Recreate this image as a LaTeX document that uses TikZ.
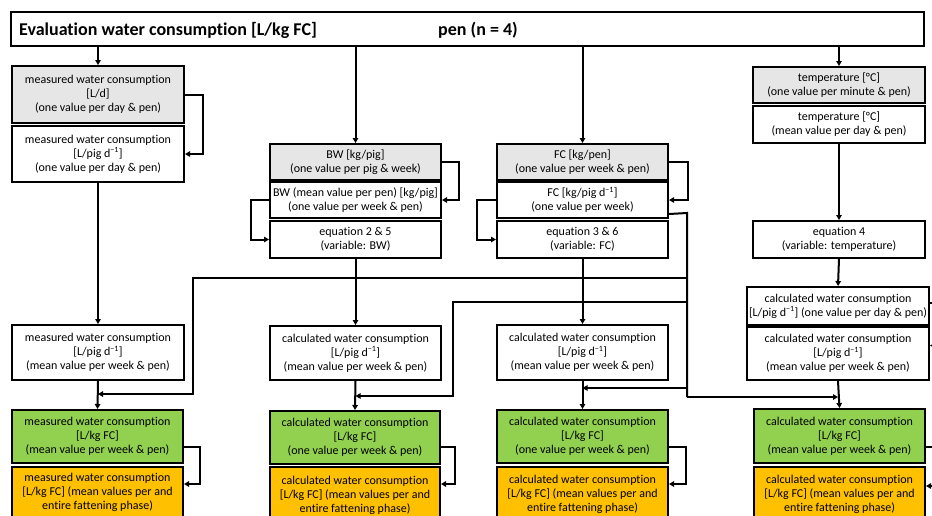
\documentclass[tikz,border=0pt]{standalone}
\usepackage{fontspec}
\setmainfont{Carlito}[Ligatures=NoCommon]
\usetikzlibrary{arrows.meta}
\definecolor{boxgray}{HTML}{E7E6E6}
\definecolor{boxgreen}{HTML}{92D050}
\definecolor{boxorange}{HTML}{FFC000}
\newcommand{\mybox}[7]{\node[box,#6,minimum width={#4pt-#2pt},minimum height={#5pt-#3pt}] (#1) at ({(#2+#4)/2},{(#3+#5)/2}) {#7};}
\newcommand{\perpd}{{[L/pig d\textsuperscript{−1}]}}
\newcommand{\perkg}{{[L/kg FC]}}
\begin{document}
\begin{tikzpicture}[x=1pt,y=-1pt,
  box/.style={draw,line width=2pt,inner sep=0pt,align=center,font=\fontsize{12}{14}\selectfont},
  gbox/.style={fill=boxgray},
  wbox/.style={fill=white},
  grbox/.style={fill=boxgreen},
  obox/.style={fill=boxorange},
  ln/.style={line width=2pt},
  arr/.style={line width=2pt,-{Triangle[length=5pt,width=5.5pt]}},
  ttl/.style={font=\fontsize{18}{21}\selectfont\bfseries,inner sep=0pt}]
\useasboundingbox (0,0) rectangle (932,515);
\clip (0,0) rectangle (932,515);
\fill[white] (0,0) rectangle (932,515);

% title
\node[draw,line width=2pt,minimum width=913pt,minimum height=34pt,inner sep=0pt] (title) at (467.5,29) {};
\node[ttl,anchor=west] (ttxt) at (19,30) {Evaluation water consumption [L/kg FC]};
\node[ttl,anchor=west] (tpen) at (438,30) {pen (n = 4)};

% column 1
\mybox{A1}{12}{66}{184}{123}{gbox}{measured water consumption\\ {[L/d]}\\ (one value per day \& pen)}
\mybox{A2}{12}{126}{184}{182}{wbox}{measured water consumption\\ \perpd\\ (one value per day \& pen)}
\mybox{A3}{12}{325}{184}{380}{wbox}{measured water consumption\\ \perpd\\ (mean value per week \& pen)}
\mybox{A4}{12}{410}{183}{463}{grbox}{measured water consumption\\ \perkg\\ (mean value per week \& pen)}
\mybox{A5}{12}{467}{183}{518}{obox}{measured water consumption\\ \perkg{} (mean values per and\\ entire fattening phase)}

% column 2
\mybox{B1}{270}{144}{441}{180}{gbox}{BW [kg/pig]\\ (one value per pig \& week)}
\mybox{B2}{270}{182}{441}{218}{wbox}{BW (mean value per pen) [kg/pig]\\ (one value per week \& pen)}
\mybox{B3}{270}{221}{441}{258}{wbox}{equation 2 \& 5\\ (variable: BW)}
\mybox{B4}{270}{326}{441}{380}{wbox}{calculated water consumption\\ \perpd\\ (mean value per week \& pen)}
\mybox{B5}{270}{411}{440}{464}{grbox}{calculated water consumption\\ \perkg\\ (one value per week \& pen)}
\mybox{B6}{270}{467}{440}{524}{obox}{calculated water consumption\\ \perkg{} (mean values per and\\ entire fattening phase)}

% column 3
\mybox{C1}{497}{144}{668}{180}{gbox}{FC [kg/pen]\\ (one value per week \& pen)}
\mybox{C2}{497}{182}{668}{218}{wbox}{FC [kg/pig d\textsuperscript{−1}]\\ (one value per week)}
\mybox{C3}{497}{221}{668}{258}{wbox}{equation 3 \& 6\\ (variable: FC)}
\mybox{C4}{497}{325}{668}{380}{wbox}{calculated water consumption\\ \perpd\\ (mean value per week \& pen)}
\mybox{C5}{497}{410}{668}{463}{grbox}{calculated water consumption\\ \perkg\\ (one value per week \& pen)}
\mybox{C6}{497}{467}{668}{522}{obox}{calculated water consumption\\ \perkg{} (mean values per and\\ entire fattening phase)}

% column 4
\mybox{D1}{753}{67}{925}{103}{gbox}{temperature [°C]\\ (one value per minute \& pen)}
\mybox{D2}{753}{106}{925}{143}{wbox}{temperature [°C]\\ (mean value per day \& pen)}
\mybox{D3}{753}{221}{925}{258}{wbox}{equation 4\\ (variable: temperature)}
\mybox{D4}{747}{287}{929}{325}{wbox}{calculated water consumption\\ \perpd{} (one value per day \& pen)}
\mybox{D5}{747}{327}{929}{380}{wbox}{calculated water consumption\\ \perpd\\ (mean value per week \& pen)}
\mybox{D6}{754}{409}{925}{463}{grbox}{calculated water consumption\\ \perkg\\ (mean value per week \& pen)}
\mybox{D7}{754}{467}{925}{522}{obox}{calculated water consumption\\ \perkg{} (mean values per and\\ entire fattening phase)}

% helper coordinates
\coordinate (gy) at (0,447);
\coordinate (oy) at (0,484);
\coordinate (oy4) at (0,486);
\coordinate (bT) at (687,213);
\coordinate (bB) at (687,397);
\coordinate (b1) at (687,278);
\coordinate (b2) at (687,302);
\coordinate (b3) at (687,388);
\coordinate (k1) at (193,278);
\coordinate (k2) at (453,302);
\coordinate (y394) at (0,394);
\coordinate (y396) at (0,396);

% title to columns
\draw[arr] (A1.north |- title.south) -- (A1.north);
\draw[arr] (B1.north |- title.south) -- (B1.north);
\draw[arr] (C1.north |- title.south) -- (C1.north);
\draw[arr] (D1.north |- title.south) -- (D1.north);

% column 1
\draw[arr] (A1.east) -- ++(18,0) |- (A2.east);
\draw[arr] (A2.south) -- (A3.north);
\draw[arr] (A3.south) -- (A4.north);
\draw[arr] (A4.east |- gy) -- (200,447) |- (A5.east |- oy);

% column 2
\draw[arr] (B1.east) -- ++(17,0) |- (B2.east);
\draw[arr] (B2.west) -- ++(-18,0) |- (B3.west);
\draw[arr] (B3.south) -- (B4.north);
\draw[arr] (B4.south) -- (B5.north);
\draw[arr] (B5.east |- gy) -- (455,447) |- (B6.east |- oy);

% column 3
\draw[arr] (C1.east) -- ++(19,0) |- (C2.east);
\draw[arr] (C2.west) -- ++(-19,0) |- (C3.west);
\draw[arr] (C3.south) -- (C4.north);
\draw[arr] (C4.south) -- (C5.north);
\draw[arr] (C5.east |- gy) -- (686,447) |- (C6.east |- oy);

% column 4
\draw[arr] (D2.south) -- (D3.north);
\draw[arr] (D3.south) -- (D4.north);
\draw[arr] ([yshift=3pt]D4.east) -- ++(20,0) |- ([yshift=8pt]D5.east);
\draw[arr] (D5.south) -- (D6.north);
\draw[arr] (D6.east |- gy) -- (945,447) |- (D7.east |- oy4);

% FC bus
\draw[ln] ([yshift=5pt]C2.south east) -- (bT) -- (bB);
\draw[arr] (bB) -- (bB -| D5.south);
\draw[arr] (b3) -- (b3 -| C4.south);
\draw[arr] (b1) -- (k1) |- (A3.south |- y394);
\draw[arr] (b2) -- (k2) |- (B4.south |- y396);
\end{tikzpicture}
\end{document}
